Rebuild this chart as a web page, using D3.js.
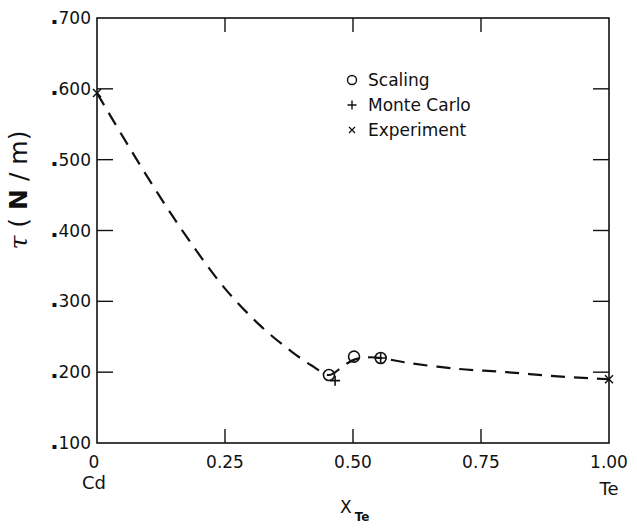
<!DOCTYPE html>
<html>
<head>
<meta charset="utf-8">
<script src="https://cdn.jsdelivr.net/npm/d3@7"></script>
<style>
  html, body { margin: 0; padding: 0; background: #fff; }
  svg { display: block; }
  text { font-family: "DejaVu Sans", "Liberation Sans", sans-serif; fill: #111; }
</style>
</head>
<body>
<svg id="chart" width="637" height="530"></svg>
<script>
// ---------- data ----------
const curveX = [0, 0.06, 0.12, 0.18, 0.25, 0.32, 0.38, 0.42, 0.453, 0.48, 0.50, 0.53, 0.555, 0.60, 0.70, 0.80, 0.90, 1.0];
const curveY = [0.594, 0.521, 0.451, 0.386, 0.318, 0.265, 0.229, 0.209, 0.196, 0.208, 0.217, 0.221, 0.220, 0.214, 0.205, 0.200, 0.194, 0.190];

const scalingX = [0.453, 0.502, 0.554];
const scalingY = [0.196, 0.222, 0.220];

const monteCarloX = [0.465, 0.554];
const monteCarloY = [0.188, 0.220];

const experimentX = [0, 1.0];
const experimentY = [0.594, 0.190];

const xTickValues = [0, 0.25, 0.5, 0.75, 1.0];
const xTickLabels = ["0", "0.25", "0.50", "0.75", "1.00"];
const xEndLabels = ["Cd", "", "", "", "Te"];
const yTickValues = [0.1, 0.2, 0.3, 0.4, 0.5, 0.6, 0.7];
const yTickLabels = ["100", "200", "300", "400", "500", "600", "700"];

const legendLabels = ["Scaling", "Monte Carlo", "Experiment"];

// ---------- layout ----------
const svg = d3.select("#chart");
const L = 97, R = 609, T = 18, B = 443;
const x = d3.scaleLinear().domain([0, 1]).range([L, R]);
const y = d3.scaleLinear().domain([0.1, 0.7]).range([B, T]);

// frame
svg.append("rect").attr("x", L).attr("y", T).attr("width", R - L).attr("height", B - T)
  .attr("fill", "none").attr("stroke", "#111").attr("stroke-width", 1.6);

// inward ticks
const inner = xTickValues.filter(v => v > 0 && v < 1);
const innerY = yTickValues.filter(v => v > 0.1 && v < 0.7);
const tk = 14;
const g = svg.append("g").attr("stroke", "#111").attr("stroke-width", 1.4);
inner.forEach(v => {
  g.append("line").attr("x1", x(v)).attr("x2", x(v)).attr("y1", B).attr("y2", B - tk);
  g.append("line").attr("x1", x(v)).attr("x2", x(v)).attr("y1", T).attr("y2", T + tk);
});
innerY.forEach(v => {
  g.append("line").attr("x1", L).attr("x2", L + tk + 2).attr("y1", y(v)).attr("y2", y(v));
  g.append("line").attr("x1", R).attr("x2", R - tk - 2).attr("y1", y(v)).attr("y2", y(v));
});

// y tick labels
yTickValues.forEach((v, i) => {
  const t = svg.append("text").attr("x", L - 6).attr("y", y(v) + 6)
    .attr("text-anchor", "end").attr("font-size", 17);
  t.append("tspan").attr("font-size", 22).attr("font-weight", "bold").text(".");
  t.append("tspan").text(yTickLabels[i]);
});

// x tick labels
xTickValues.forEach((v, i) => {
  svg.append("text").attr("x", x(v) - (i === 0 ? 3 : 0)).attr("y", B + 25)
    .attr("text-anchor", "middle").attr("font-size", 17).text(xTickLabels[i]);
  if (xEndLabels[i]) {
    svg.append("text").attr("x", x(v) - (i === 0 ? 3 : 0)).attr("y", B + 46 + (i === 4 ? 6 : 0))
      .attr("text-anchor", "middle").attr("font-size", 18).text(xEndLabels[i]);
  }
});

// axis titles
const yt = svg.append("text").attr("transform", "translate(27,190) rotate(-90)")
  .attr("text-anchor", "middle").attr("font-size", 25);
yt.append("tspan").attr("font-family", "DejaVu Serif, serif").attr("font-style", "italic").text("τ");
yt.append("tspan").text(" ( ");
yt.append("tspan").attr("font-weight", "bold").text("N");
yt.append("tspan").text(" / m)");

const xt = svg.append("text").attr("x", 340).attr("y", 513).attr("font-size", 17);
xt.append("tspan").text("X");
xt.append("tspan").attr("dx", 3).attr("dy", 8).attr("font-size", 12).attr("font-weight", "bold").text("Te");

// dashed curve
const curveData = curveX.map((v, i) => [v, curveY[i]]);
svg.append("path").datum(curveData)
  .attr("d", d3.line().x(d => x(d[0])).y(d => y(d[1])).curve(d3.curveCatmullRom.alpha(0.5)))
  .attr("fill", "none").attr("stroke", "#111").attr("stroke-width", 2.2)
  .attr("stroke-dasharray", "14,9");

// markers
function circleMark(cx, cy) {
  svg.append("circle").attr("cx", cx).attr("cy", cy).attr("r", 5.5)
    .attr("fill", "#fff").attr("fill-opacity", 0).attr("stroke", "#111").attr("stroke-width", 1.6);
}
function plusMark(cx, cy, s) {
  svg.append("path").attr("d", `M${cx - s},${cy}H${cx + s}M${cx},${cy - s}V${cy + s}`)
    .attr("stroke", "#111").attr("stroke-width", 1.6);
}
function xMark(cx, cy, s) {
  svg.append("path").attr("d", `M${cx - s},${cy - s}L${cx + s},${cy + s}M${cx - s},${cy + s}L${cx + s},${cy - s}`)
    .attr("stroke", "#111").attr("stroke-width", 1.5);
}
scalingX.forEach((v, i) => circleMark(x(v), y(scalingY[i])));
monteCarloX.forEach((v, i) => plusMark(x(v), y(monteCarloY[i]), i === 1 ? 5.5 : 5));
experimentX.forEach((v, i) => xMark(x(v), y(experimentY[i]), 4));

// legend
const lx = 352, ly = [80, 105, 130];
svg.append("circle").attr("cx", lx).attr("cy", ly[0]).attr("r", 4.5)
  .attr("fill", "none").attr("stroke", "#111").attr("stroke-width", 1.4);
svg.append("path").attr("d", `M${lx - 4.5},${ly[1]}H${lx + 4.5}M${lx},${ly[1] - 4.5}V${ly[1] + 4.5}`)
  .attr("stroke", "#111").attr("stroke-width", 1.4);
svg.append("path").attr("d", `M${lx - 3},${ly[2] - 3}L${lx + 3},${ly[2] + 3}M${lx - 3},${ly[2] + 3}L${lx + 3},${ly[2] - 3}`)
  .attr("stroke", "#111").attr("stroke-width", 1.3);
legendLabels.forEach((t, i) => {
  svg.append("text").attr("x", lx + 16).attr("y", ly[i] + 6).attr("font-size", 17).text(t);
});
</script>
</body>
</html>
